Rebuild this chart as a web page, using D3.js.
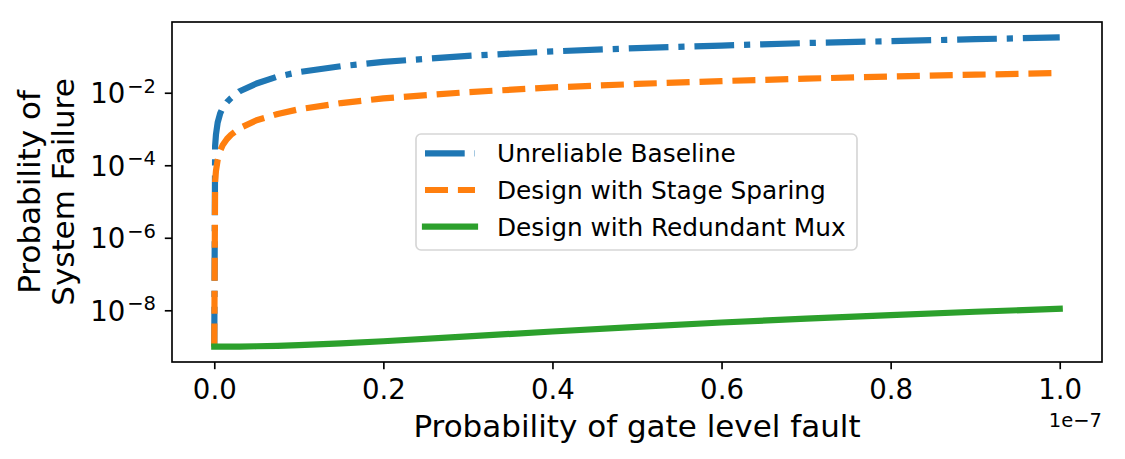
<!DOCTYPE html>
<html>
<head>
<meta charset="utf-8">
<script src="https://cdn.jsdelivr.net/npm/d3@7"></script>
<style>
  html, body { margin: 0; padding: 0; background: #fff; }
  text { font-family: "DejaVu Sans", sans-serif; fill: #000; }
</style>
</head>
<body>
<div id="chart-container"></div>
<script>
// CONSTANTS
const WIDTH = 1125;
const HEIGHT = 459;
const MARGIN = { top: 22, right: 23, bottom: 97, left: 172 };

// DATA (x in units of 1e-7)
const gateFault = [0, 0.001, 0.002, 0.004, 0.007, 0.01, 0.015, 0.02, 0.03, 0.05, 0.075,
                   0.1, 0.15, 0.2, 0.3, 0.4, 0.5, 0.6, 0.7, 0.8, 0.9, 1.0];
const unreliableBaseline = [1e-9, 3.4e-4, 7e-4, 1.5e-3, 2.7e-3, 3.8e-3, 5.5e-3, 7.2e-3, 1.1e-2, 1.8e-2, 2.8e-2,
                            3.7e-2, 5.4e-2, 7.1e-2, 0.104, 0.138, 0.17, 0.2, 0.235, 0.265, 0.3, 0.335];
const stageSparing = [1e-9, 3.5e-5, 7e-5, 1.4e-4, 2.5e-4, 3.6e-4, 5.3e-4, 7e-4, 1.05e-3, 1.75e-3, 2.6e-3,
                      3.5e-3, 5.2e-3, 7e-3, 1.04e-2, 1.4e-2, 1.75e-2, 2.1e-2, 2.45e-2, 2.8e-2, 3.15e-2, 3.5e-2];
const redundantMux = [1e-9, 1e-9, 1e-9, 1e-9, 1e-9, 1e-9, 1e-9, 1e-9, 1.0e-9, 1.02e-9, 1.05e-9,
                      1.1e-9, 1.22e-9, 1.4e-9, 1.9e-9, 2.6e-9, 3.5e-9, 4.6e-9, 5.9e-9, 7.4e-9, 9.1e-9, 1.1e-8];

const seriesNames = ["Unreliable Baseline", "Design with Stage Sparing", "Design with Redundant Mux"];
const seriesColors = ["#1f77b4", "#ff7f0e", "#2ca02c"];
const seriesDashes = ["39.7 9.9 6.2 9.9", "23 9.9", null];
const xTicks = [0, 0.2, 0.4, 0.6, 0.8, 1.0];
const yTicks = [-8, -6, -4, -2];

const LW = 6.2;
const FRAME_W = 1.66;
const TICK_FONT = "27.6px";

const series = [unreliableBaseline, stageSparing, redundantMux].map((vals, i) => ({
  name: seriesNames[i],
  color: seriesColors[i],
  dash: seriesDashes[i],
  points: vals.map((v, j) => ({ x: gateFault[j], y: v }))
}));

// SCALES (matplotlib style 5% margins)
const xExt = d3.extent(gateFault);
const xPad = (xExt[1] - xExt[0]) * 0.05;
const allY = [].concat(unreliableBaseline, stageSparing, redundantMux);
const lo = Math.log10(d3.min(allY));
const hi = Math.log10(d3.max(allY));
const yPad = (hi - lo) * 0.05;

const xScale = d3.scaleLinear()
  .domain([xExt[0] - xPad, xExt[1] + xPad])
  .range([MARGIN.left, WIDTH - MARGIN.right]);
const yScale = d3.scaleLog()
  .domain([Math.pow(10, lo - yPad), Math.pow(10, hi + yPad)])
  .range([HEIGHT - MARGIN.bottom, MARGIN.top]);

const svg = d3.select("#chart-container")
  .append("svg")
  .attr("width", WIDTH)
  .attr("height", HEIGHT);

svg.append("rect").attr("width", WIDTH).attr("height", HEIGHT).attr("fill", "#fff");

svg.append("clipPath").attr("id", "plot-clip")
  .append("rect")
  .attr("x", MARGIN.left)
  .attr("y", MARGIN.top)
  .attr("width", WIDTH - MARGIN.left - MARGIN.right)
  .attr("height", HEIGHT - MARGIN.top - MARGIN.bottom);

// LINES
const lineGen = d3.line().x(d => xScale(d.x)).y(d => yScale(d.y));

svg.append("g")
  .attr("clip-path", "url(#plot-clip)")
  .selectAll("path")
  .data(series)
  .enter()
  .append("path")
  .attr("d", d => lineGen(d.points))
  .attr("fill", "none")
  .attr("stroke", d => d.color)
  .attr("stroke-width", LW)
  .attr("stroke-linejoin", "round")
  .attr("stroke-linecap", d => d.dash ? "butt" : "square")
  .attr("stroke-dasharray", d => d.dash);

// AXES
const xAxis = svg.append("g")
  .attr("transform", `translate(0,${HEIGHT - MARGIN.bottom})`)
  .call(d3.axisBottom(xScale).tickValues(xTicks).tickFormat(d3.format(".1f")).tickSizeOuter(0).tickSize(7.2));
xAxis.select(".domain").remove();
xAxis.selectAll(".tick line").attr("stroke", "#000").attr("stroke-width", FRAME_W);
xAxis.selectAll(".tick text")
  .attr("y", 36.5).attr("dy", 0)
  .style("font-size", TICK_FONT)
  .style("font-family", "DejaVu Sans");

const yAxis = svg.append("g")
  .attr("transform", `translate(${MARGIN.left},0)`)
  .call(d3.axisLeft(yScale).tickValues(yTicks.map(e => Math.pow(10, e))).tickFormat("").tickSizeOuter(0).tickSize(7.2));
yAxis.select(".domain").remove();
yAxis.selectAll(".tick line").attr("stroke", "#000").attr("stroke-width", FRAME_W);
yAxis.selectAll(".tick text").each(function(d) {
  const t = d3.select(this)
    .attr("x", -16).attr("y", 10).attr("dy", 0)
    .attr("text-anchor", "end")
    .style("font-size", TICK_FONT)
    .style("font-family", "DejaVu Sans");
  t.text(null);
  t.append("tspan").text("10");
  t.append("tspan").attr("dx", 2).attr("dy", -10.5).style("font-size", "19.5px")
    .text("\u2212" + Math.abs(Math.round(Math.log10(d))));
});

// FRAME
svg.append("rect")
  .attr("x", MARGIN.left)
  .attr("y", MARGIN.top)
  .attr("width", WIDTH - MARGIN.left - MARGIN.right)
  .attr("height", HEIGHT - MARGIN.top - MARGIN.bottom)
  .attr("fill", "none")
  .attr("stroke", "#000")
  .attr("stroke-width", FRAME_W);

// LABELS
svg.append("text")
  .attr("x", (MARGIN.left + WIDTH - MARGIN.right) / 2)
  .attr("y", 436.7)
  .attr("text-anchor", "middle")
  .style("font-size", "31px")
  .text("Probability of gate level fault");

svg.append("text")
  .attr("x", WIDTH - MARGIN.right)
  .attr("y", 427)
  .attr("text-anchor", "end")
  .style("font-size", "19.5px")
  .text("1e\u22127");

const yMid = (MARGIN.top + HEIGHT - MARGIN.bottom) / 2;
const yLabel = svg.append("text")
  .attr("transform", `translate(0,${yMid}) rotate(-90)`)
  .attr("text-anchor", "middle")
  .style("font-size", "31px");
yLabel.append("tspan").attr("x", 0).attr("y", 39.5).text("Probability of");
yLabel.append("tspan").attr("x", 0).attr("y", 74).text("System Failure");

// LEGEND
const legend = svg.append("g").attr("transform", "translate(416,134)");
legend.append("rect")
  .attr("width", 441)
  .attr("height", 116)
  .attr("rx", 5)
  .attr("fill", "#fff")
  .attr("fill-opacity", 0.8)
  .attr("stroke", "#d6d6d6")
  .attr("stroke-width", FRAME_W);

const rows = legend.selectAll(".row")
  .data(series)
  .enter()
  .append("g")
  .attr("class", "row")
  .attr("transform", (d, i) => `translate(0,${19.3 + i * 36.7})`);

rows.append("line")
  .attr("x1", 9).attr("x2", 59)
  .attr("stroke", d => d.color)
  .attr("stroke-width", LW)
  .attr("stroke-linecap", d => d.dash ? "butt" : "square")
  .attr("stroke-dasharray", d => d.dash);

rows.append("text")
  .attr("x", 81)
  .attr("y", 9)
  .style("font-size", "24.8px")
  .text(d => d.name);
</script>
</body>
</html>
